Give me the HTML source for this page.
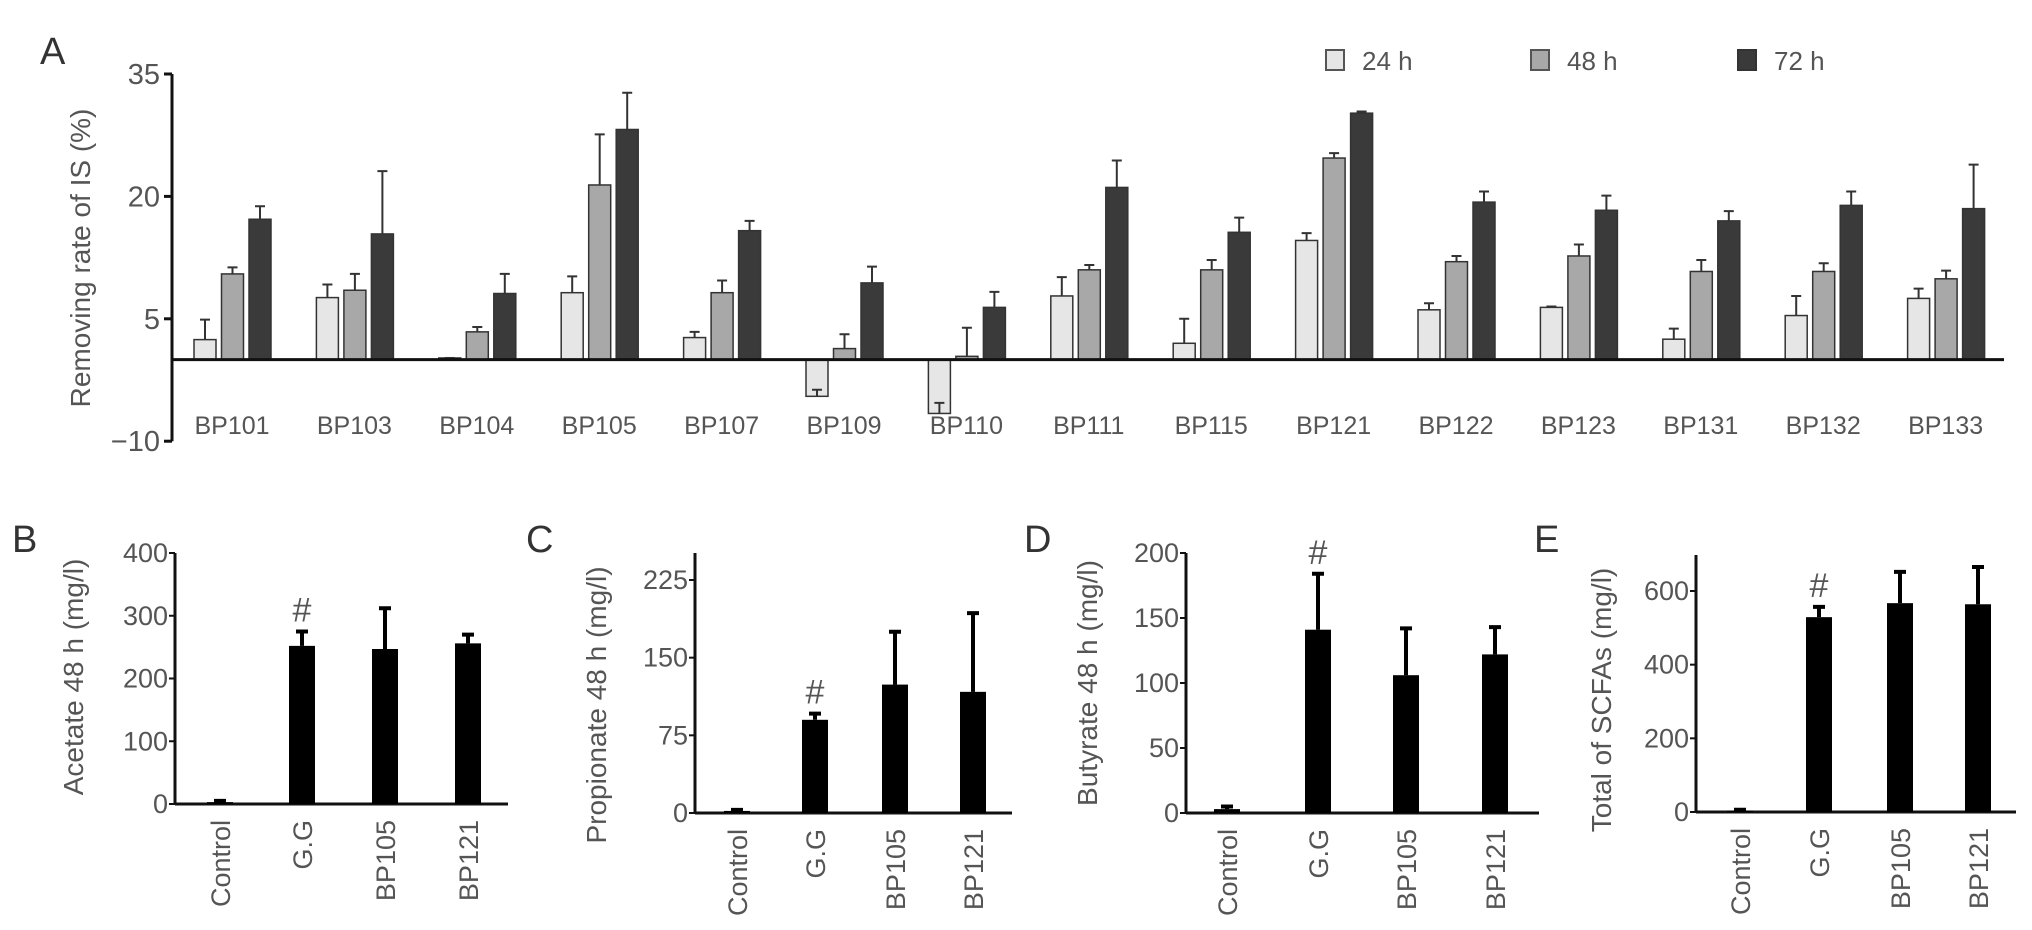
<!DOCTYPE html>
<html><head><meta charset="utf-8">
<style>
html,body{margin:0;padding:0;background:#fff;}
svg{display:block;font-family:"Liberation Sans",Arial,sans-serif;}
.tk{fill:#555;}
</style></head>
<body>
<svg id="fig" width="2032" height="930" viewBox="0 0 2032 930" xmlns="http://www.w3.org/2000/svg">
<text x="40" y="64" font-size="38" fill="#333">A</text>
<g>
 <rect x="1326" y="50" width="18" height="20" fill="#e6e6e6" stroke="#555" stroke-width="2"/>
 <text x="1362" y="70" font-size="26" class="tk">24 h</text>
 <rect x="1531" y="50" width="18" height="20" fill="#a8a8a8" stroke="#555" stroke-width="2"/>
 <text x="1567" y="70" font-size="26" class="tk">48 h</text>
 <rect x="1738" y="50" width="18" height="20" fill="#3a3a3a" stroke="#333" stroke-width="2"/>
 <text x="1774" y="70" font-size="26" class="tk">72 h</text>
</g>
</svg>
<script>
// ---- Panel A data ----
const catsA = ["BP101","BP103","BP104","BP105","BP107","BP109","BP110","BP111","BP115","BP121","BP122","BP123","BP131","BP132","BP133"];
const v24 = [2.45,7.6,0.2,8.2,2.7,-4.5,-6.6,7.8,2.0,14.6,6.1,6.4,2.5,5.4,7.5];
const e24 = [4.9,9.2,0.2,10.2,3.4,-3.7,-5.3,10.1,5.0,15.5,6.9,6.5,3.8,7.8,8.7];
const v48 = [10.5,8.5,3.4,21.4,8.2,1.35,0.4,11.0,11.0,24.7,12.0,12.7,10.8,10.8,9.9];
const e48 = [11.3,10.5,4.0,27.6,9.7,3.1,3.9,11.6,12.2,25.3,12.7,14.1,12.2,11.8,10.9];
const v72 = [17.2,15.4,8.1,28.2,15.8,9.4,6.4,21.1,15.6,30.2,19.3,18.3,17.0,18.9,18.5];
const e72 = [18.8,23.1,10.5,32.7,17.0,11.4,8.3,24.4,17.4,30.4,20.6,20.1,18.2,20.6,23.9];
const ticksA = [35,20,5,-10];
// ---- Panels B-E data ----
const catsB = ["Control","G.G","BP105","BP121"];
const acetate = [3,252,247,256];
const acetateErr = [5,275,312,270];
const ticksAcetate = [0,100,200,300,400];
const propionate = [2,90,124,117];
const propionateErr = [3,96,175,193];
const ticksPropionate = [0,75,150,225];
const butyrate = [3,141,106,122];
const butyrateErr = [5,184,142,143];
const ticksButyrate = [0,50,100,150,200];
const totalScfa = [4,529,567,564];
const totalScfaErr = [6,557,652,665];
const ticksTotal = [0,200,400,600];

const NS="http://www.w3.org/2000/svg";
const svg=document.getElementById('fig');
function mk(tag,attrs,parent){const e=document.createElementNS(NS,tag);for(const k in attrs)e.setAttribute(k,attrs[k]);(parent||svg).appendChild(e);return e;}

// Panel A
const yA = v => 359.6 - v*8.16;
const gA = mk('g',{});


const fills=["#e6e6e6","#a8a8a8","#3a3a3a"];
const series=[[v24,e24],[v48,e48],[v72,e72]];
const sNames=["24h","48h","72h"];
catsA.forEach((c,i)=>{
  const gx=194+i*122.4;
  series.forEach((s,j)=>{
    const x=gx+j*27.5, v=s[0][i], e=s[1][i];
    const top=Math.min(yA(v),yA(0)), h=Math.abs(yA(v)-yA(0));
    const r=mk('rect',{x:x,y:top,width:22,height:Math.max(h,1.5),fill:fills[j],stroke:"#333","stroke-width":1.5},gA);
    
    
    const ey=yA(v), ee=yA(e);
    const l=mk('path',{d:`M${x+11},${ey}V${ee}M${x+6},${ee}H${x+16}`,stroke:"#333","stroke-width":2,fill:"none"},gA);
    
    
  });
  const t=mk('text',{x:gx+38,y:434,"font-size":25,"text-anchor":"middle",class:"tk"},gA);
  t.textContent=c;
  
  
});
mk('path',{d:`M172,${yA(35)}V${yA(-10)}`,stroke:"#111","stroke-width":3},gA);
const zl=mk('path',{d:`M172,${yA(0)}H2004`,stroke:"#111","stroke-width":3},gA);


ticksA.forEach(t=>{
  mk('path',{d:`M164,${yA(t)}H172`,stroke:"#111","stroke-width":3},gA);
  const tx=mk('text',{x:160,y:yA(t)+10,"font-size":29,"text-anchor":"end",class:"tk"},gA);
  tx.textContent=(t<0?"\u2212":"")+Math.abs(t);
  
  
});
const ytA=mk('text',{x:0,y:0,"font-size":28,"text-anchor":"middle",class:"tk",transform:"translate(90,258) rotate(-90)"},gA);
ytA.textContent="Removing rate of IS (%)";



// Small panels
function panel(p){
  const g=mk('g',{});
  
  
  const y=v=>p.y0-(v/p.tmax)*(p.y0-p.ytop);
  const lab=mk('text',{x:p.lx,y:552,"font-size":38,fill:"#333"},g);
  lab.textContent=p.id.toUpperCase();
  
  
  mk('path',{d:`M${p.ax},${p.axTop}V${p.y0}`,stroke:"#111","stroke-width":3},g);
  mk('path',{d:`M${p.ax},${p.y0}H${p.axEnd}`,stroke:"#111","stroke-width":3},g);
  p.ticks.forEach(t=>{
    mk('path',{d:`M${p.ax-6},${y(t)}H${p.ax}`,stroke:"#111","stroke-width":2},g);
    const tx=mk('text',{x:p.ax-7,y:y(t)+9,"font-size":27,"text-anchor":"end",class:"tk"},g);
    tx.textContent=t;
    
    
  });
  catsB.forEach((c,i)=>{
    const cx=p.cx[i];
    const top=y(p.vals[i]);
    const r=mk('rect',{x:cx-13,y:top,width:26,height:p.y0-top,fill:"#000"},g);
    
    
    const ee=y(p.errs[i]);
    const l=mk('path',{d:`M${cx},${top}V${ee}M${cx-6},${ee}H${cx+6}`,stroke:"#000","stroke-width":4,fill:"none"},g);
    
    
    const t=mk('text',{x:0,y:0,"font-size":27,"text-anchor":"end",class:"tk",transform:`translate(${cx+10},${p.y0+16}) rotate(-90)`},g);
    t.textContent=c;
    
    
  });
  const h=mk('text',{x:p.cx[1],y:y(p.errs[1])-10,"font-size":34,"text-anchor":"middle",class:"tk"},g);
  h.textContent="#";
  
  
  const yt=mk('text',{x:0,y:0,"font-size":28,"text-anchor":"middle",class:"tk",transform:`translate(${p.tx},${p.ty}) rotate(-90)`},g);
  yt.textContent=p.title;
  
  
}
panel({id:'b',lx:12,ax:175,axTop:553,axEnd:508,y0:804,ytop:553,tmax:400,ticks:ticksAcetate,vals:acetate,errs:acetateErr,cx:[220,302,385,468],title:"Acetate 48 h (mg/l)",tx:83,ty:677});
panel({id:'c',lx:526,ax:695,axTop:553,axEnd:1012,y0:813,ytop:580,tmax:225,ticks:ticksPropionate,vals:propionate,errs:propionateErr,cx:[737,815,895,973],title:"Propionate 48 h (mg/l)",tx:606,ty:705});
panel({id:'d',lx:1024,ax:1186,axTop:553,axEnd:1539,y0:813,ytop:553,tmax:200,ticks:ticksButyrate,vals:butyrate,errs:butyrateErr,cx:[1227,1318,1406,1495],title:"Butyrate 48 h (mg/l)",tx:1097,ty:683});
panel({id:'e',lx:1534,ax:1696,axTop:555,axEnd:2016,y0:812,ytop:591,tmax:600,ticks:ticksTotal,vals:totalScfa,errs:totalScfaErr,cx:[1740,1819,1900,1978],title:"Total of SCFAs (mg/l)",tx:1611,ty:700});
</script>
</body></html>
